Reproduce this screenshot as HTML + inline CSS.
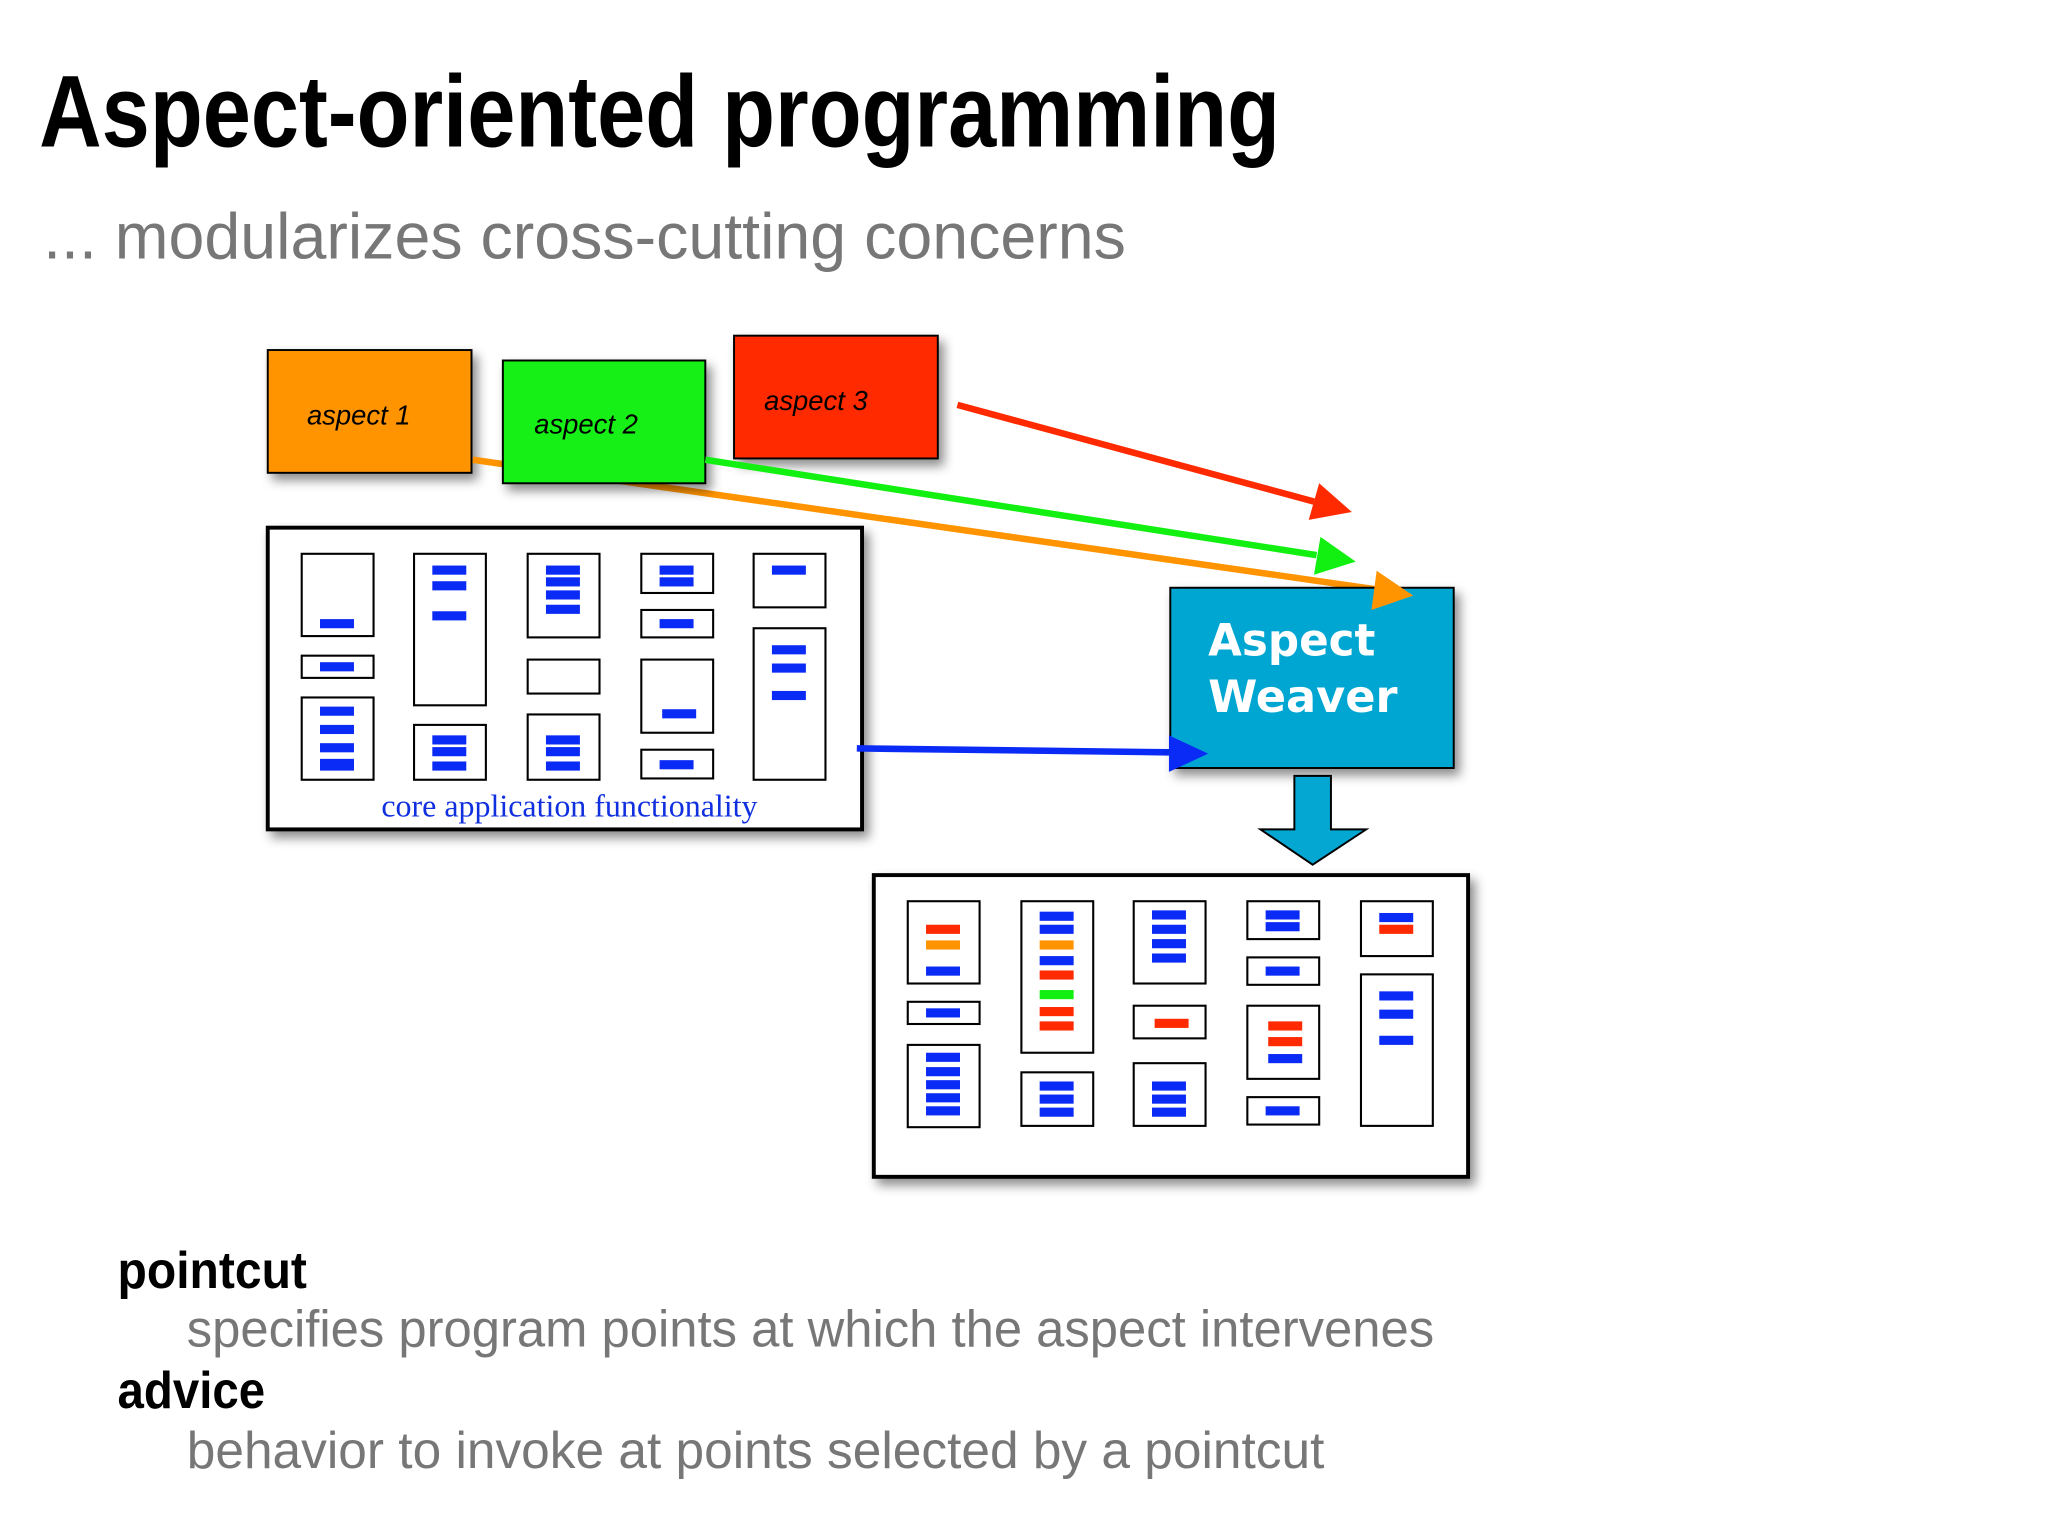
<!DOCTYPE html>
<html><head><meta charset="utf-8"><style>html,body{margin:0;padding:0;background:#fff}svg{display:block}</style></head>
<body>
<svg width="2048" height="1536" viewBox="0 0 1568 1176" xmlns="http://www.w3.org/2000/svg">
<defs>
<filter id="sh" x="-10%" y="-10%" width="130%" height="130%"><feDropShadow dx="4" dy="5" stdDeviation="4" flood-color="#000" flood-opacity="0.45"/></filter>
</defs>
<rect width="1568" height="1176" fill="#fff"/>
<text x="30" y="112" font-family="Liberation Sans, sans-serif" font-weight="bold" font-size="78" fill="#000" textLength="950" lengthAdjust="spacingAndGlyphs">Aspect-oriented programming</text>
<text x="33" y="198" font-family="Liberation Sans, sans-serif" font-size="50" fill="#777" textLength="829" lengthAdjust="spacingAndGlyphs">... modularizes cross-cutting concerns</text>

<!-- aspect 1 and orange line (behind aspect 2) -->
<rect x="205" y="268" width="156" height="94" fill="#ff9400" stroke="#000" stroke-width="1.5" filter="url(#sh)"/>
<text x="235" y="325" font-family="Liberation Sans, sans-serif" font-style="italic" font-size="21" fill="#000">aspect 1</text>
<line x1="362" y1="352" x2="1052" y2="451" stroke="#ff9400" stroke-width="5"/>
<rect x="385" y="276" width="155" height="94" fill="#12f012" stroke="#000" stroke-width="1.5" filter="url(#sh)"/>
<text x="409" y="332" font-family="Liberation Sans, sans-serif" font-style="italic" font-size="21" fill="#000">aspect 2</text>
<rect x="562" y="257" width="156" height="94" fill="#ff2a00" stroke="#000" stroke-width="1.5" filter="url(#sh)"/>
<text x="585" y="314" font-family="Liberation Sans, sans-serif" font-style="italic" font-size="21" fill="#000">aspect 3</text>

<!-- core box -->
<rect x="205" y="404" width="455" height="231" fill="#fff" stroke="#000" stroke-width="3" filter="url(#sh)"/>
<g fill="none" stroke="#000" stroke-width="1.6">
<rect x="231" y="424" width="55" height="63"/><rect x="231" y="502" width="55" height="17"/><rect x="231" y="534" width="55" height="63"/>
<rect x="317" y="424" width="55" height="116"/><rect x="317" y="555" width="55" height="42"/>
<rect x="404" y="424" width="55" height="64"/><rect x="404" y="505" width="55" height="26"/><rect x="404" y="547" width="55" height="50"/>
<rect x="491" y="424" width="55" height="30"/><rect x="491" y="467" width="55" height="21"/><rect x="491" y="505" width="55" height="56"/><rect x="491" y="574" width="55" height="22"/>
<rect x="577" y="424" width="55" height="41"/><rect x="577" y="481" width="55" height="116"/>
</g>
<g fill="#0a2af5">
<rect x="245" y="474" width="26" height="7"/><rect x="245" y="507" width="26" height="7"/>
<rect x="245" y="541" width="26" height="7"/><rect x="245" y="555" width="26" height="7"/><rect x="245" y="569" width="26" height="7"/><rect x="245" y="581" width="26" height="7"/><rect x="245" y="583" width="26" height="7"/>
<rect x="331" y="433" width="26" height="7"/><rect x="331" y="445" width="26" height="7"/><rect x="331" y="468" width="26" height="7"/>
<rect x="331" y="563" width="26" height="7"/><rect x="331" y="572" width="26" height="7"/><rect x="331" y="583" width="26" height="7"/>
<rect x="418" y="433" width="26" height="7"/><rect x="418" y="442" width="26" height="7"/><rect x="418" y="452" width="26" height="7"/><rect x="418" y="463" width="26" height="7"/>
<rect x="418" y="563" width="26" height="7"/><rect x="418" y="572" width="26" height="7"/><rect x="418" y="583" width="26" height="7"/>
<rect x="505" y="433" width="26" height="7"/><rect x="505" y="442" width="26" height="7"/><rect x="505" y="474" width="26" height="7"/>
<rect x="507" y="543" width="26" height="7"/><rect x="505" y="582" width="26" height="7"/>
<rect x="591" y="433" width="26" height="7"/><rect x="591" y="494" width="26" height="7"/><rect x="591" y="508" width="26" height="7"/><rect x="591" y="529" width="26" height="7"/>
</g>
<text x="292" y="625" font-family="Liberation Serif, serif" font-size="24" fill="#1030e0" textLength="288" lengthAdjust="spacingAndGlyphs">core application functionality</text>

<!-- arrows -->
<g stroke-width="5" fill="none">
<line x1="540" y1="352" x2="1008" y2="425" stroke="#12f012"/>
<line x1="733" y1="310" x2="1006" y2="384" stroke="#ff2a00"/>
<line x1="656" y1="573" x2="895" y2="576" stroke="#0a2af5"/>
</g>
<polygon points="1038,430 1006,440 1011,411" fill="#12f012"/>
<polygon points="1035,392 1002,398 1010,370" fill="#ff2a00"/>

<!-- weaver -->
<rect x="896" y="450" width="217" height="138" fill="#04a6d2" stroke="#000" stroke-width="1.5" filter="url(#sh)"/>
<polygon points="1082,456 1050,467 1054,437" fill="#ff9400"/>
<polygon points="925,577 895,591 895,563" fill="#0a2af5"/>
<text x="925" y="502" font-family="DejaVu Sans, sans-serif" font-weight="bold" font-size="34" fill="#fff" textLength="128" lengthAdjust="spacingAndGlyphs">Aspect</text>
<text x="925" y="545" font-family="DejaVu Sans, sans-serif" font-weight="bold" font-size="34" fill="#fff" textLength="145" lengthAdjust="spacingAndGlyphs">Weaver</text>
<polygon points="991,594 1019,594 1019,635 1046,635 1005,662 965,635 991,635" fill="#04a6d2" stroke="#000" stroke-width="1.5"/>

<!-- output box -->
<rect x="669" y="670" width="455" height="231" fill="#fff" stroke="#000" stroke-width="3" filter="url(#sh)"/>
<g fill="none" stroke="#000" stroke-width="1.6">
<rect x="695" y="690" width="55" height="63"/><rect x="695" y="767" width="55" height="17"/><rect x="695" y="800" width="55" height="63"/>
<rect x="782" y="690" width="55" height="116"/><rect x="782" y="821" width="55" height="41"/>
<rect x="868" y="690" width="55" height="63"/><rect x="868" y="770" width="55" height="25"/><rect x="868" y="814" width="55" height="48"/>
<rect x="955" y="690" width="55" height="29"/><rect x="955" y="733" width="55" height="21"/><rect x="955" y="770" width="55" height="56"/><rect x="955" y="840" width="55" height="21"/>
<rect x="1042" y="690" width="55" height="42"/><rect x="1042" y="746" width="55" height="116"/>
</g>
<g>
<rect x="709" y="708" width="26" height="7" fill="#ff2a00"/><rect x="709" y="720" width="26" height="7" fill="#ff9400"/><rect x="709" y="740" width="26" height="7" fill="#0a2af5"/>
<rect x="709" y="772" width="26" height="7" fill="#0a2af5"/>
<g fill="#0a2af5"><rect x="709" y="806" width="26" height="7"/><rect x="709" y="817" width="26" height="7"/><rect x="709" y="827" width="26" height="7"/><rect x="709" y="837" width="26" height="7"/><rect x="709" y="847" width="26" height="7"/></g>
<rect x="796" y="698" width="26" height="7" fill="#0a2af5"/><rect x="796" y="708" width="26" height="7" fill="#0a2af5"/><rect x="796" y="720" width="26" height="7" fill="#ff9400"/><rect x="796" y="732" width="26" height="7" fill="#0a2af5"/><rect x="796" y="743" width="26" height="7" fill="#ff2a00"/><rect x="796" y="758" width="26" height="7" fill="#12f012"/><rect x="796" y="771" width="26" height="7" fill="#ff2a00"/><rect x="796" y="782" width="26" height="7" fill="#ff2a00"/>
<g fill="#0a2af5"><rect x="796" y="828" width="26" height="7"/><rect x="796" y="838" width="26" height="7"/><rect x="796" y="848" width="26" height="7"/></g>
<g fill="#0a2af5"><rect x="882" y="697" width="26" height="7"/><rect x="882" y="708" width="26" height="7"/><rect x="882" y="719" width="26" height="7"/><rect x="882" y="730" width="26" height="7"/></g>
<rect x="884" y="780" width="26" height="7" fill="#ff2a00"/>
<g fill="#0a2af5"><rect x="882" y="828" width="26" height="7"/><rect x="882" y="838" width="26" height="7"/><rect x="882" y="848" width="26" height="7"/></g>
<g fill="#0a2af5"><rect x="969" y="697" width="26" height="7"/><rect x="969" y="706" width="26" height="7"/><rect x="969" y="740" width="26" height="7"/></g>
<rect x="971" y="782" width="26" height="7" fill="#ff2a00"/><rect x="971" y="794" width="26" height="7" fill="#ff2a00"/><rect x="971" y="807" width="26" height="7" fill="#0a2af5"/>
<rect x="969" y="847" width="26" height="7" fill="#0a2af5"/>
<rect x="1056" y="699" width="26" height="7" fill="#0a2af5"/><rect x="1056" y="708" width="26" height="7" fill="#ff2a00"/>
<g fill="#0a2af5"><rect x="1056" y="759" width="26" height="7"/><rect x="1056" y="773" width="26" height="7"/><rect x="1056" y="793" width="26" height="7"/></g>
</g>

<!-- bottom text -->
<text x="90" y="986" font-family="Liberation Sans, sans-serif" font-weight="bold" font-size="40" fill="#000" textLength="145" lengthAdjust="spacingAndGlyphs">pointcut</text>
<text x="143" y="1031" font-family="Liberation Sans, sans-serif" font-size="40" fill="#777" textLength="955" lengthAdjust="spacingAndGlyphs">specifies program points at which the aspect intervenes</text>
<text x="90" y="1078" font-family="Liberation Sans, sans-serif" font-weight="bold" font-size="40" fill="#000" textLength="113" lengthAdjust="spacingAndGlyphs">advice</text>
<text x="143" y="1124" font-family="Liberation Sans, sans-serif" font-size="40" fill="#777" textLength="871" lengthAdjust="spacingAndGlyphs">behavior to invoke at points selected by a pointcut</text>
</svg>
</body></html>
